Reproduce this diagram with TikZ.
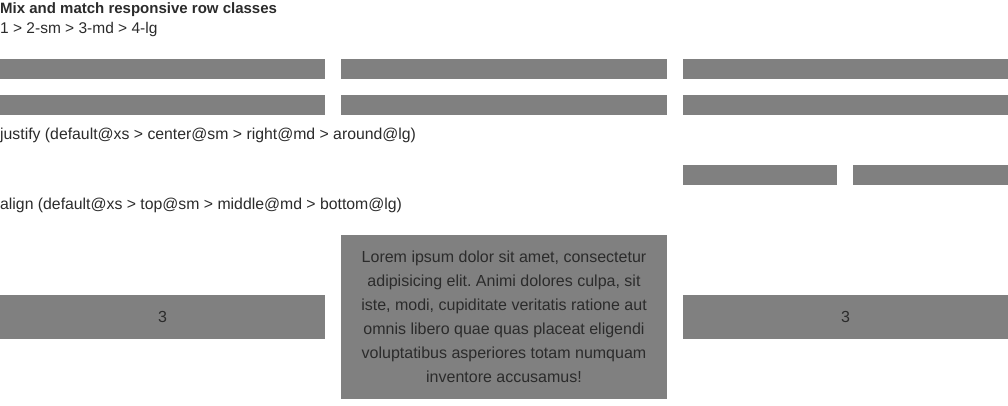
\documentclass[tikz,border=0pt]{standalone}
\usepackage{fontspec}
\setmainfont{Liberation Sans}
\frenchspacing
\definecolor{cellgray}{HTML}{808080}
\definecolor{inkgray}{HTML}{2B2B2B}

\begin{document}
\begin{tikzpicture}[x=1pt,y=-1pt,
		cell/.style={fill=cellgray,draw=none,anchor=north west,inner sep=0pt,outer sep=0pt,minimum height=#1},
		cell/.default=20pt,
		label/.style={anchor=base west,inner sep=0pt,text=inkgray,font=\fontsize{15.8}{19}\selectfont},
		celltext/.style={text=inkgray,font=\fontsize{16}{24}\selectfont,align=center}]
		\path[use as bounding box] (0,0) rectangle (1008,406);

		\node[label,font=\bfseries\fontsize{15}{18}\selectfont] (title) at (0,14) {Mix and match responsive row classes};
		\node[label,font=\fontsize{15.5}{19}\selectfont] (order) at (0,34) {1 > 2-sm > 3-md > 4-lg};

		\node[cell,minimum width=325pt] (rowAa) at (0,59) {};
		\node[cell,minimum width=326pt] (rowAb) at (341,59) {};
		\node[cell,minimum width=325pt] (rowAc) at (683,59) {};

		\node[cell,minimum width=325pt] (rowBa) at (0,95) {};
		\node[cell,minimum width=326pt] (rowBb) at (341,95) {};
		\node[cell,minimum width=325pt] (rowBc) at (683,95) {};

		\node[label] (justify) at (0,139.5) {justify (default@xs > center@sm > right@md > around@lg)};

		\node[cell,minimum width=154pt] (rowCa) at (683,165) {};
		\node[cell,minimum width=155pt] (rowCb) at (853,165) {};

		\node[label] (align) at (0,209.5) {align (default@xs > top@sm > middle@md > bottom@lg)};

		\node[cell=44pt,minimum width=325pt,celltext] (rowDa) at (0,295) {3};
		\node[cell=164pt,minimum width=326pt,celltext] (rowDb) at (341,235) {Lorem ipsum dolor sit amet, consectetur\\adipisicing elit. Animi dolores culpa, sit\\iste, modi, cupiditate veritatis ratione aut\\omnis libero quae quas placeat eligendi\\voluptatibus asperiores totam numquam\\inventore accusamus!};
		\node[cell=44pt,minimum width=325pt,celltext] (rowDc) at (683,295) {3};
\end{tikzpicture}
\end{document}
